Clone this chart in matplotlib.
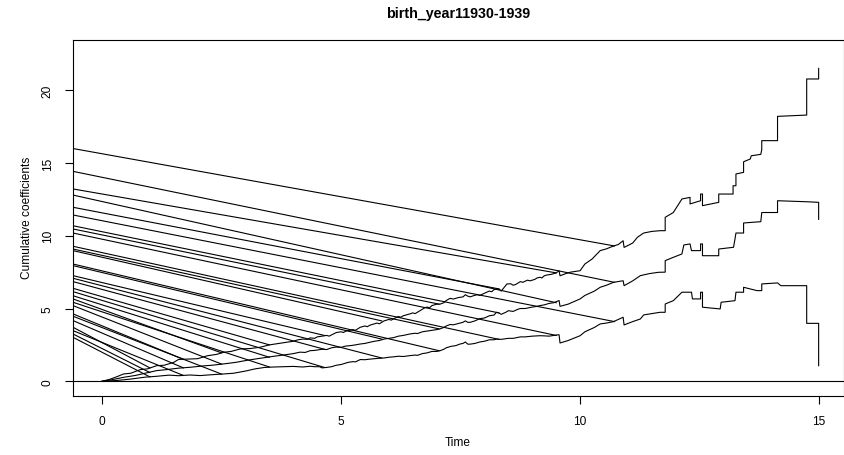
import numpy as np
import matplotlib
matplotlib.use("Agg")
import matplotlib.pyplot as plt

plt.rcParams['font.family'] = ['Liberation Sans', 'DejaVu Sans']

title = "birth_year11930-1939"
xlabel = "Time"
ylabel = "Cumulative coefficients"
xticks = [0, 5, 10, 15]
yticks = [0, 5, 10, 15, 20]

# upper confidence band
upper_t = [0, 0.15, 0.3, 0.45, 0.6, 0.8, 0.95, 1.14, 1.3, 1.5, 1.6, 1.84, 2.0, 2.2, 2.4, 2.54,
           2.7, 2.89, 3.1, 3.31, 3.5, 3.8, 4.0, 4.1, 4.2, 4.3, 4.35, 4.45, 4.5, 4.6, 4.7, 4.75,
           4.9, 5.0, 5.05, 5.1, 5.25, 5.3, 5.4, 5.5, 5.55, 5.6, 5.75, 5.8, 5.9, 6.0, 6.05, 6.1,
           6.2, 6.25, 6.3, 6.44, 6.5, 6.55, 6.6, 6.75, 6.8, 6.85, 6.9, 7.0, 7.07, 7.15, 7.2,
           7.28, 7.35, 7.45, 7.55, 7.6, 7.65, 7.7, 7.77, 7.85, 7.9, 8.0, 8.1, 8.15, 8.2, 8.3,
           8.35, 8.4, 8.47, 8.55, 8.6, 8.65, 8.75, 8.8, 8.9, 8.95, 9.05, 9.1, 9.16, 9.2, 9.25,
           9.3, 9.4, 9.45, 9.5, 9.56, 9.58, 9.7, 9.8, 10.0, 10.1, 10.25,
           10.42, 10.55, 10.7, 10.8, 10.9, 10.92, 11.1, 11.2, 11.33, 11.5, 11.67,
           11.78, 11.78, 11.95, 12.13, 12.3, 12.3, 12.52,
           12.52, 12.56, 12.56, 12.9, 12.9, 13.2, 13.2, 13.26, 13.26, 13.42, 13.42, 13.56, 13.58,
           13.78, 13.8, 13.8, 14.13, 14.13, 14.74, 14.74, 14.99, 14.99]
upper_v = [0, 0.12, 0.3, 0.5, 0.55, 0.8, 0.85, 1.07, 1.1, 1.3, 1.5, 1.53, 1.55, 1.75, 1.85, 1.99,
           2.05, 2.22, 2.25, 2.34, 2.5, 2.65, 2.75, 2.85, 2.9, 2.88, 2.98, 2.95, 3.05, 3.1, 3.15, 3.1,
           3.35, 3.4, 3.35, 3.45, 3.55, 3.5, 3.71, 3.8, 3.75, 3.85, 4.0, 3.95, 4.15, 4.25, 4.2, 4.3,
           4.45, 4.4, 4.5, 4.63, 4.7, 4.65, 4.75, 5.05, 5.1, 5.05, 5.2, 5.3, 5.3, 5.4, 5.55,
           5.7, 5.65, 5.75, 5.8, 5.95, 5.85, 5.8, 5.88, 5.95, 5.9, 6.05, 6.2, 6.15, 6.3, 6.35,
           6.2, 6.4, 6.69, 6.7, 6.6, 6.65, 6.85, 6.8, 6.95, 6.9, 7.0, 7.1, 7.15, 7.1, 7.25,
           7.3, 7.35, 7.4, 7.45, 7.6, 7.25, 7.4, 7.5, 7.6, 8.06, 8.4,
           8.98, 9.1, 9.3, 9.4, 9.66, 9.2, 9.5, 9.9, 10.19, 10.3, 10.35,
           10.35, 11.27, 11.6, 12.53, 12.64, 12.19, 12.41,
           12.87, 12.87, 12.07, 12.3, 12.87, 12.87, 13.44, 13.44, 14.25, 14.36, 15.09, 15.28, 15.5,
           15.6, 15.92, 16.54, 16.54, 18.21, 18.3, 20.78, 20.78, 21.51]

# estimate
mid_t = [0, 0.2, 0.45, 0.7, 0.9, 1.14, 1.35, 1.6, 1.84, 2.1, 2.3, 2.54, 2.8, 3.05, 3.31, 3.6,
         3.9, 4.0, 4.14, 4.25, 4.35, 4.45, 4.6, 4.7, 4.8, 4.9, 5.0, 5.1, 5.2, 5.3, 5.4, 5.5,
         5.6, 5.7, 5.8, 5.9, 6.0, 6.1, 6.2, 6.3, 6.44, 6.55, 6.6, 6.7, 6.8, 6.9, 7.0, 7.07,
         7.15, 7.2, 7.28, 7.35, 7.49, 7.55, 7.6, 7.65, 7.7, 7.8, 7.9, 8.0, 8.1, 8.2, 8.25,
         8.3, 8.35, 8.45, 8.5, 8.6, 8.7, 8.75, 8.85, 9.0, 9.1, 9.16, 9.25, 9.35, 9.45, 9.56,
         9.58, 9.75, 10.0,
         10.1, 10.3, 10.42, 10.55, 10.7, 10.9, 10.92, 11.1, 11.26, 11.45, 11.64,
         11.78, 11.78, 11.95, 12.13,
         12.17, 12.3, 12.33, 12.52, 12.52, 12.56, 12.56, 12.9, 12.9, 13.21, 13.24, 13.26, 13.42,
         13.42, 13.78, 13.8, 14.13, 14.13, 14.74, 14.99, 14.99]
mid_v = [0, 0.1, 0.27, 0.4, 0.55, 0.73, 0.8, 0.9, 0.96, 1.05, 1.1, 1.19, 1.3, 1.45, 1.58, 1.72,
         1.85, 1.9, 2.0, 1.98, 2.1, 2.12, 2.2, 2.18, 2.3, 2.35, 2.33, 2.42, 2.45, 2.5, 2.56, 2.6,
         2.68, 2.75, 2.8, 2.9, 2.95, 3.0, 3.1, 3.15, 3.25, 3.3, 3.28, 3.4, 3.45, 3.5, 3.55, 3.6,
         3.7, 3.8, 3.9, 3.88, 4.0, 4.05, 4.15, 4.05, 4.05, 4.15, 4.3, 4.35, 4.5, 4.55, 4.74,
         4.7, 4.6, 4.75, 4.85, 4.8, 4.95, 5.0, 5.0, 5.1, 5.15, 5.2, 5.25, 5.35, 5.4, 5.55,
         5.15, 5.3, 5.66,
         5.9, 6.2, 6.46, 6.6, 6.8, 6.91, 6.57, 6.9, 7.26, 7.4, 7.49,
         7.5, 8.29, 8.52, 8.75,
         9.37, 9.44, 8.98, 8.98, 9.44, 9.44, 8.63, 8.63, 9.09, 9.21, 9.78, 10.19, 10.19,
         10.88, 10.97, 11.6, 11.6, 12.41, 12.34, 12.3, 11.13]

# lower confidence band
lower_t = [0, 0.3, 0.6, 0.9, 1.14, 1.4, 1.6, 1.84, 2.05, 2.3, 2.54, 2.75, 3.0, 3.2, 3.4, 3.6,
           3.8, 4.0, 4.1, 4.2, 4.35, 4.45, 4.55, 4.6, 4.7, 4.8, 4.9, 5.0, 5.15, 5.25, 5.3, 5.4,
           5.5, 5.6, 5.7, 5.8, 5.9, 6.0, 6.1, 6.2, 6.3, 6.44, 6.55, 6.6, 6.7, 6.8, 6.9, 7.0,
           7.07, 7.15, 7.2, 7.3, 7.4, 7.49, 7.55, 7.6, 7.65, 7.7, 7.8, 7.9, 8.0, 8.1, 8.2, 8.25,
           8.35, 8.5, 8.6, 8.75, 8.85, 9.0, 9.16, 9.25, 9.35, 9.45, 9.56, 9.58, 9.75,
           10.0, 10.1, 10.3, 10.42, 10.55, 10.7, 10.9, 10.92, 11.1, 11.26, 11.33, 11.5, 11.67,
           11.78, 11.78, 11.95, 12.13, 12.33, 12.35, 12.52, 12.52, 12.56, 12.56, 12.93, 12.95, 13.24,
           13.26, 13.42, 13.42, 13.7, 13.8, 13.8, 14.13, 14.2, 14.74, 14.74, 14.99, 14.99]
lower_v = [0, 0.05, 0.15, 0.28, 0.34, 0.42, 0.38, 0.43, 0.39, 0.45, 0.5, 0.55, 0.7, 0.85, 0.95, 0.98,
           1.0, 1.02, 1.0, 0.98, 1.03, 1.0, 1.0, 0.92, 0.95, 1.0, 1.1, 1.15, 1.3, 1.35, 1.33, 1.49,
           1.48, 1.52, 1.55, 1.58, 1.6, 1.65, 1.68, 1.72, 1.7, 1.76, 1.8, 1.78, 1.9, 1.95, 2.05, 2.05,
           2.1, 2.2, 2.3, 2.4, 2.45, 2.56, 2.6, 2.7, 2.55, 2.55, 2.6, 2.7, 2.75, 2.85, 2.85, 2.9,
           2.88, 2.95, 2.95, 3.05, 3.05, 3.1, 3.13, 3.12, 3.1, 3.15, 3.2, 2.63, 2.8,
           3.13, 3.4, 3.7, 3.94, 4.0, 4.1, 4.4, 3.87, 4.1, 4.28, 4.56, 4.65, 4.74,
           4.74, 5.31, 5.54, 6.12, 6.12, 5.66, 5.66, 6.12, 6.12, 5.09, 4.97, 5.43, 5.54,
           6.12, 6.12, 6.46, 6.23, 6.23, 6.69, 6.76, 6.57, 6.57, 3.98, 3.98, 1.07]

# straight connector lines: value at left frame edge -> end point on a curve
seg_start_t = -0.608
seg_start_v = [16.0, 14.43, 13.22, 12.8, 11.96, 11.43, 10.69, 10.47, 10.19, 9.28, 9.09, 8.98,
               8.06, 7.95, 7.26, 7.08, 6.85, 6.39, 6.16, 5.88, 5.66, 5.43, 5.2, 4.63, 4.47,
               4.17, 3.71, 3.48, 3.25, 3.02]
seg_end_t = [10.72, 10.72, 9.5, 9.5, 8.3, 10.72, 8.3, 7.05, 9.5, 8.3, 7.05, 5.85,
             7.05, 5.85, 4.65, 5.85, 4.65, 3.5, 4.65, 3.5, 2.5, 3.5, 2.5, 1.7, 2.5,
             1.7, 1.0, 1.7, 1.0, 1.0]
seg_end_v = [9.3, 6.8, 7.45, 5.4, 6.35, 4.1, 4.7, 5.3, 3.15, 2.88, 3.6, 4.15,
             2.1, 2.9, 3.15, 1.6, 2.2, 2.5, 0.95, 1.65, 1.95, 0.98, 1.18, 1.51, 0.49,
             0.92, 0.92, 0.4, 0.6, 0.3]

W, H = 844, 456
fig = plt.figure(figsize=(W / 100, H / 100), dpi=100)
ax = fig.add_axes([73 / W, (H - 396.5) / H, (843.5 - 73) / W, (396.5 - 41) / H])

lw = 0.8
for s, et, ev in zip(seg_start_v, seg_end_t, seg_end_v):
    ax.plot([seg_start_t, et], [s, ev], color='black', lw=lw)
ax.plot(upper_t, upper_v, color='black', lw=lw)
ax.plot(mid_t, mid_v, color='black', lw=lw)
ax.plot(lower_t, lower_v, color='black', lw=lw)
ax.axhline(0, color='black', lw=lw)

ax.set_xlim(-0.608, 15.51)
ax.set_ylim(-0.98, 23.46)
ax.set_xticks(xticks)
ax.set_yticks(yticks)
ax.set_xticklabels([str(v) for v in xticks], fontsize=8.6)
ax.set_yticklabels([str(v) for v in yticks], fontsize=8.6, rotation=90, va='center')
ax.tick_params(direction='out', length=6, width=0.8, pad=8)
for sp in ax.spines.values():
    sp.set_linewidth(0.8)

fig.text(458 / W, 1 - 14 / H, title, ha='center', va='center', fontsize=10.3, fontweight='bold')
fig.text(458 / W, 1 - 443 / H, xlabel, ha='center', va='center', fontsize=8.6)
fig.text(27 / W, 1 - 218 / H, ylabel, ha='center', va='center', fontsize=8.6, rotation=90)

fig.savefig("out.png", dpi=100)
